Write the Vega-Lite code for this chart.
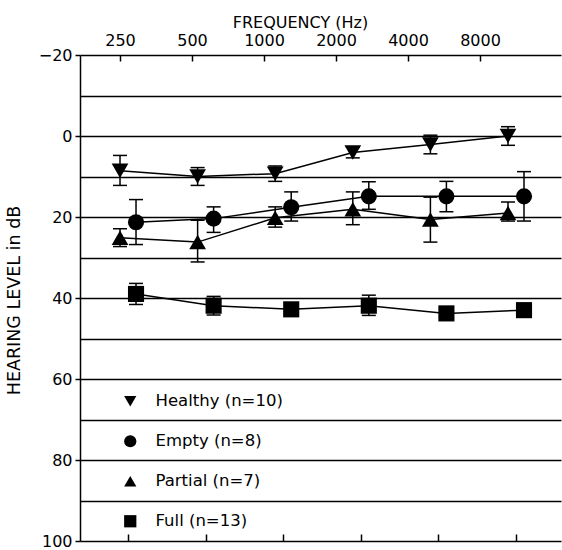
{
  "$schema": "https://vega.github.io/schema/vega-lite/v6.json",
  "autosize": {"type": "none"},
  "padding": {"left": 80, "top": 55, "right": 1, "bottom": 9},
  "width": 481,
  "height": 486,
  "background": "white",
  "config": {
    "view": {"stroke": null},
    "font": "DejaVu Sans",
    "axis": {
      "domainColor": "black", "tickColor": "black", "labelColor": "black", "titleColor": "black",
      "labelFont": "DejaVu Sans", "titleFont": "DejaVu Sans", "labelFontSize": 16, "titleFontSize": 16,
      "titleFontWeight": "normal", "domainWidth": 1.5, "tickWidth": 1.5
    }
  },
  "data": {"values": [
    {"group": "Healthy (n=10)", "freq": 250, "mean": 8.6, "lo": 4.8, "hi": 12.2},
    {"group": "Healthy (n=10)", "freq": 500, "mean": 10.0, "lo": 7.8, "hi": 12.2},
    {"group": "Healthy (n=10)", "freq": 1000, "mean": 9.3, "lo": 7.4, "hi": 11.2},
    {"group": "Healthy (n=10)", "freq": 2000, "mean": 4.1, "lo": 2.8, "hi": 5.4},
    {"group": "Healthy (n=10)", "freq": 4000, "mean": 2.1, "lo": -0.2, "hi": 4.4},
    {"group": "Healthy (n=10)", "freq": 8000, "mean": 0.0, "lo": -2.3, "hi": 2.3},
    {"group": "Empty (n=8)", "freq": 250, "mean": 21.3, "lo": 15.7, "hi": 26.8},
    {"group": "Empty (n=8)", "freq": 500, "mean": 20.4, "lo": 17.5, "hi": 23.8},
    {"group": "Empty (n=8)", "freq": 1000, "mean": 17.6, "lo": 13.8, "hi": 21.0},
    {"group": "Empty (n=8)", "freq": 2000, "mean": 14.9, "lo": 11.3, "hi": 18.1},
    {"group": "Empty (n=8)", "freq": 4000, "mean": 14.9, "lo": 11.2, "hi": 18.7},
    {"group": "Empty (n=8)", "freq": 8000, "mean": 14.9, "lo": 8.8, "hi": 21.0},
    {"group": "Partial (n=7)", "freq": 250, "mean": 25.1, "lo": 22.9, "hi": 27.3},
    {"group": "Partial (n=7)", "freq": 500, "mean": 26.2, "lo": 20.8, "hi": 31.1},
    {"group": "Partial (n=7)", "freq": 1000, "mean": 20.2, "lo": 17.5, "hi": 22.5},
    {"group": "Partial (n=7)", "freq": 2000, "mean": 18.1, "lo": 13.8, "hi": 21.9},
    {"group": "Partial (n=7)", "freq": 4000, "mean": 20.6, "lo": 15.1, "hi": 26.2},
    {"group": "Partial (n=7)", "freq": 8000, "mean": 19.0, "lo": 16.3, "hi": 21.0},
    {"group": "Full (n=13)", "freq": 250, "mean": 39.0, "lo": 36.4, "hi": 41.6},
    {"group": "Full (n=13)", "freq": 500, "mean": 41.9, "lo": 39.6, "hi": 44.2},
    {"group": "Full (n=13)", "freq": 1000, "mean": 42.8, "lo": 41.5, "hi": 44.1},
    {"group": "Full (n=13)", "freq": 2000, "mean": 41.9, "lo": 39.3, "hi": 44.3},
    {"group": "Full (n=13)", "freq": 4000, "mean": 43.8, "lo": 42.5, "hi": 45.1},
    {"group": "Full (n=13)", "freq": 8000, "mean": 43.0, "lo": 41.7, "hi": 44.3}
  ]},
  "resolve": {"scale": {"x": "independent"}},
  "layer": [
    {
      "mark": {"type": "point", "opacity": 0},
      "encoding": {
        "x": {
          "field": "freq", "type": "quantitative",
          "scale": {"type": "log", "base": 2, "domain": [170.1, 17450]},
          "axis": {
            "orient": "top", "values": [250, 500, 1000, 2000, 4000, 8000], "format": "d",
            "offset": -6, "tickSize": 6, "domain": false, "labelPadding": 10, "labelBaseline": "alphabetic", "grid": false,
            "title": "FREQUENCY (Hz)", "titleX": 220, "titleY": -34, "titleBaseline": "alphabetic", "titleAlign": "center"
          }
        },
        "y": {
          "field": "mean", "type": "quantitative",
          "scale": {"domain": [-20, 100], "reverse": true, "nice": false, "zero": false},
          "axis": {
            "values": [-20, -10, 0, 10, 20, 30, 40, 50, 60, 70, 80, 90, 100],
            "labelExpr": "datum.value % 20 === 0 ? datum.label : ''",
            "tickOpacity": {"condition": {"test": "datum.value % 20 !== 0", "value": 0}, "value": 1},
            "tickSize": 5, "labelPadding": 3,
            "grid": true, "gridColor": "black", "gridWidth": 1.5, "gridOpacity": 1,
            "title": "HEARING LEVEL in dB", "titleFontSize": 17.5, "titleX": -66, "titleY": 245, "titleAngle": -90,
            "titleBaseline": "middle", "titleAlign": "center"
          }
        }
      }
    },
    {
      "encoding": {
        "x": {
          "field": "freq", "type": "quantitative",
          "scale": {"type": "log", "base": 2, "domain": [162.8, 11958]},
          "axis": {
            "orient": "bottom", "values": [250, 500, 1000, 2000, 4000, 8000], "offset": -7,
            "labels": false, "tickSize": 7, "domain": false, "grid": false, "title": null
          }
        },
        "y": {
          "field": "mean", "type": "quantitative",
          "scale": {"domain": [-20, 100], "reverse": true, "nice": false, "zero": false},
          "axis": {
            "values": [-20, -10, 0, 10, 20, 30, 40, 50, 60, 70, 80, 90, 100],
            "labelExpr": "datum.value % 20 === 0 ? datum.label : ''",
            "tickOpacity": {"condition": {"test": "datum.value % 20 !== 0", "value": 0}, "value": 1},
            "tickSize": 5, "labelPadding": 3,
            "grid": true, "gridColor": "black", "gridWidth": 1.5, "gridOpacity": 1,
            "title": "HEARING LEVEL in dB", "titleFontSize": 17.5, "titleX": -66, "titleY": 245, "titleAngle": -90,
            "titleBaseline": "middle", "titleAlign": "center"
          }
        }
      },
      "layer": [
        {
          "transform": [{"filter": {"field": "group", "oneOf": ["Healthy (n=10)", "Partial (n=7)"]}}],
          "mark": {"type": "line", "color": "black", "strokeWidth": 1.5, "xOffset": -8},
          "encoding": {"detail": {"field": "group"}}
        },
        {
          "transform": [{"filter": {"field": "group", "oneOf": ["Empty (n=8)", "Full (n=13)"]}}],
          "mark": {"type": "line", "color": "black", "strokeWidth": 1.5, "xOffset": 8},
          "encoding": {"detail": {"field": "group"}}
        },
        {
          "transform": [{"filter": {"field": "group", "oneOf": ["Healthy (n=10)", "Partial (n=7)"]}}],
          "mark": {"type": "rule", "color": "black", "strokeWidth": 1.5, "xOffset": -8},
          "encoding": {
            "y": {"field": "lo", "type": "quantitative", "title": "HEARING LEVEL in dB"},
            "y2": {"field": "hi"}
          }
        },
        {
          "transform": [{"filter": {"field": "group", "oneOf": ["Empty (n=8)", "Full (n=13)"]}}],
          "mark": {"type": "rule", "color": "black", "strokeWidth": 1.5, "xOffset": 8},
          "encoding": {
            "y": {"field": "lo", "type": "quantitative", "title": "HEARING LEVEL in dB"},
            "y2": {"field": "hi"}
          }
        },
        {
          "transform": [{"filter": {"field": "group", "oneOf": ["Healthy (n=10)", "Partial (n=7)"]}}],
          "mark": {"type": "tick", "orient": "horizontal", "color": "black", "size": 14, "thickness": 1.5, "opacity": 1, "xOffset": -8},
          "encoding": {"y": {"field": "lo", "type": "quantitative", "title": "HEARING LEVEL in dB"}}
        },
        {
          "transform": [{"filter": {"field": "group", "oneOf": ["Healthy (n=10)", "Partial (n=7)"]}}],
          "mark": {"type": "tick", "orient": "horizontal", "color": "black", "size": 14, "thickness": 1.5, "opacity": 1, "xOffset": -8},
          "encoding": {"y": {"field": "hi", "type": "quantitative", "title": "HEARING LEVEL in dB"}}
        },
        {
          "transform": [{"filter": {"field": "group", "oneOf": ["Empty (n=8)", "Full (n=13)"]}}],
          "mark": {"type": "tick", "orient": "horizontal", "color": "black", "size": 14, "thickness": 1.5, "opacity": 1, "xOffset": 8},
          "encoding": {"y": {"field": "lo", "type": "quantitative", "title": "HEARING LEVEL in dB"}}
        },
        {
          "transform": [{"filter": {"field": "group", "oneOf": ["Empty (n=8)", "Full (n=13)"]}}],
          "mark": {"type": "tick", "orient": "horizontal", "color": "black", "size": 14, "thickness": 1.5, "opacity": 1, "xOffset": 8},
          "encoding": {"y": {"field": "hi", "type": "quantitative", "title": "HEARING LEVEL in dB"}}
        },
        {
          "transform": [{"filter": {"field": "group", "oneOf": ["Healthy (n=10)", "Partial (n=7)"]}}],
          "mark": {"type": "point", "filled": true, "color": "black", "opacity": 1, "size": 280, "strokeWidth": 0, "xOffset": -8},
          "encoding": {
            "shape": {
              "field": "group", "type": "nominal",
              "scale": {"domain": ["Healthy (n=10)", "Empty (n=8)", "Partial (n=7)", "Full (n=13)"], "range": ["triangle-down", "circle", "triangle-up", "square"]},
              "legend": {
                "orient": "none", "legendX": 42, "legendY": 338, "direction": "vertical", "title": null,
                "padding": 0, "labelFont": "DejaVu Sans", "labelFontSize": 16.5, "labelColor": "black",
                "rowPadding": 23, "labelOffset": 17, "symbolSize": 150,
                "symbolFillColor": "black", "symbolStrokeColor": "black", "symbolStrokeWidth": 0, "symbolOpacity": 1
              }
            }
          }
        },
        {
          "transform": [{"filter": {"field": "group", "oneOf": ["Empty (n=8)", "Full (n=13)"]}}],
          "mark": {"type": "point", "filled": true, "color": "black", "opacity": 1, "size": 260, "strokeWidth": 0, "xOffset": 8},
          "encoding": {
            "shape": {
              "field": "group", "type": "nominal",
              "scale": {"domain": ["Healthy (n=10)", "Empty (n=8)", "Partial (n=7)", "Full (n=13)"], "range": ["triangle-down", "circle", "triangle-up", "square"]},
              "legend": null
            }
          }
        }
      ]
    }
  ]
}
